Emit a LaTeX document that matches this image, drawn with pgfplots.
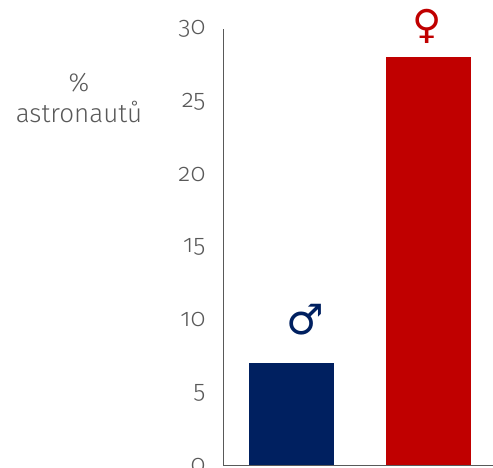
\documentclass[border=0pt]{standalone}
\usepackage{pgfplots}
\pgfplotsset{compat=1.18}
\usepackage{fontspec}
\setmainfont[Numbers=OldStyle]{Fira Sans Light}
\newfontfamily\symfont{DejaVu Sans}
\definecolor{navybar}{HTML}{002060}
\definecolor{redbar}{HTML}{C00000}
\definecolor{labelgrey}{HTML}{595959}
\begin{document}
\begin{tikzpicture}[x=1pt,y=1pt]
\path[use as bounding box] (0,0) rectangle (493,468);
\begin{scope}
\clip (0,0) rectangle (493,468);
\begin{axis}[
  at={(223pt,2.5pt)}, anchor=south west,
  scale only axis, width=274pt, height=436.5pt,
  xmin=-0.5, xmax=1.5, ymin=0, ymax=30,
  axis y line=left, axis x line=bottom,
  axis line style={draw=labelgrey, line width=1pt, -},
  xtick=\empty, ytick={0,5,...,30},
  major tick length=0pt,
  clip=false,
  tick label style={text=labelgrey, font=\fontsize{25}{25}\selectfont},
  /pgf/number format/assume math mode=true,
  yticklabel style={xshift=-14pt},
  ybar, bar width=85pt, bar shift=0pt,
]
\addplot[draw=none, fill=navybar] coordinates {(0,7.05)};
\addplot[draw=none, fill=redbar] coordinates {(1,28.05)};
\node[text=navybar, font=\symfont\fontsize{42}{42}\selectfont] at (axis cs:0.1,10.0) {♂};
\node[text=redbar, font=\symfont\fontsize{40}{40}\selectfont] at (axis cs:0.99,30.2) {♀};
\end{axis}
\node[text=labelgrey, align=center, font=\fontsize{26}{31}\selectfont] at (79,370) {\%\\astronautů};
\end{scope}
\end{tikzpicture}
\end{document}
